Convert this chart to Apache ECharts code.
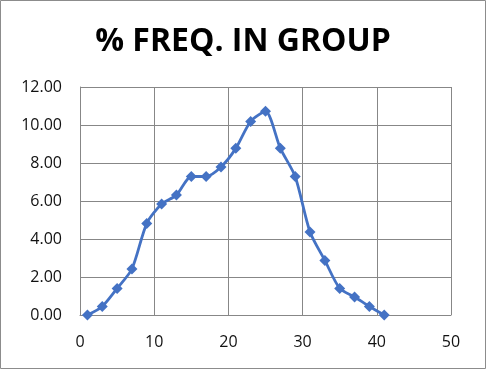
<!DOCTYPE html>
<html><head><meta charset="utf-8">
<script src="https://cdn.jsdelivr.net/npm/echarts@6/dist/echarts.min.js"></script>
<style>html,body{margin:0;padding:0;background:#fff}#c{width:486px;height:369px}</style>
</head><body><div id="c"></div>
<script>
const xValues = [1,3,5,7,9,11,13,15,17,19,21,23,25,27,29,31,33,35,37,39,41];
const freqValues = [0,0.45,1.40,2.42,4.82,5.84,6.31,7.29,7.29,7.79,8.77,10.19,10.72,8.77,7.29,4.37,2.87,1.40,0.95,0.45,0];
const titleText = '% FREQ. IN GROUP';

const chart = echarts.init(document.getElementById('c'), null, {renderer:'canvas'});
chart.setOption({
  animation:false,
  backgroundColor:'#fff',
  title:{text:titleText,left:'center',top:21,textStyle:{fontFamily:'Open Sans',fontWeight:'bold',fontSize:32,color:'#000'}},
  graphic:[{type:'rect',shape:{x:0.5,y:0.5,width:485,height:368},style:{fill:null,stroke:'#8c8c8c',lineWidth:1}}],
  grid:{left:80,right:35,top:87,bottom:54},
  xAxis:{type:'value',min:0,max:50,interval:10,
    axisLine:{show:true,lineStyle:{color:'#878787',width:1}},
    axisTick:{show:false},
    axisLabel:{color:'#111',fontSize:16,fontFamily:'Open Sans',margin:19},
    splitLine:{show:true,lineStyle:{color:'#878787',width:1}}},
  yAxis:{type:'value',min:0,max:12,interval:2,
    axisLine:{show:true,lineStyle:{color:'#878787',width:1}},
    axisTick:{show:false},
    axisLabel:{color:'#111',fontSize:16,fontFamily:'Open Sans',margin:18,formatter:v=>v.toFixed(2)},
    splitLine:{show:true,lineStyle:{color:'#878787',width:1}}},
  series:[{type:'line',data:xValues.map((x,i)=>[x,freqValues[i]]),smooth:0.25,
    symbol:'diamond',symbolSize:11,
    lineStyle:{color:'#4472C4',width:2.8},
    itemStyle:{color:'#4472C4'}}]
});
</script></body></html>
